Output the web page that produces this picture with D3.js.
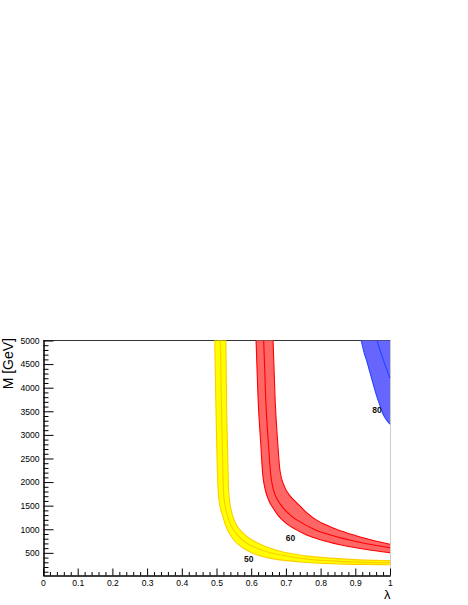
<!DOCTYPE html>
<html><head><meta charset="utf-8">
<script src="https://cdn.jsdelivr.net/npm/d3@7"></script>
<style>body{margin:0;background:#fff}svg{display:block}</style>
</head><body>
<script>
// ---- data (lambda, M [GeV]) ----
const yellowLower = [[0.495,5000],[0.498,3731],[0.501,2665],[0.505,1812],[0.510,1492],[0.518,1279],[0.527,1066],[0.539,895],[0.553,746],[0.570,640],[0.590,544],[0.614,463],[0.649,394],[0.690,345],[0.741,307],[0.798,281],[0.871,262],[0.942,254],[1.0,249]];
const yellowUpper = [[0.527,5000],[0.529,3731],[0.532,2665],[0.535,1812],[0.540,1492],[0.547,1279],[0.558,1087],[0.574,938],[0.594,810],[0.617,714],[0.643,629],[0.678,544],[0.718,480],[0.770,426],[0.827,388],[0.899,356],[0.957,341],[1.0,335]];
const yellowCenter = [[0.511,5000],[0.514,3731],[0.517,2665],[0.520,1812],[0.525,1492],[0.532,1279],[0.542,1077],[0.556,917],[0.574,778],[0.595,672],[0.620,586],[0.655,501],[0.698,437],[0.755,373],[0.827,330],[0.914,303],[1.0,292]];

const redLower = [[0.614,5000],[0.620,3731],[0.627,2878],[0.633,2175],[0.640,1855],[0.650,1620],[0.663,1450],[0.678,1290],[0.698,1141],[0.724,1013],[0.758,885],[0.799,778],[0.856,672],[0.928,576],[1.0,501]];
const redUpper = [[0.663,5000],[0.669,3731],[0.676,2878],[0.683,2239],[0.695,1919],[0.712,1706],[0.732,1556],[0.755,1386],[0.784,1215],[0.827,1055],[0.870,938],[0.928,810],[1.0,682]];
const redCenter = [[0.636,5000],[0.642,3731],[0.649,2878],[0.656,2175],[0.665,1812],[0.678,1599],[0.695,1428],[0.718,1269],[0.747,1130],[0.784,991],[0.836,863],[0.899,746],[0.957,661],[1.0,608]];

const blueLower = [[0.917,5000],[0.925,4754],[0.934,4541],[0.942,4328],[0.951,4093],[0.961,3838],[0.970,3646],[0.978,3475],[0.988,3337],[1.0,3230]];
const blueCenter = [[0.963,5000],[0.971,4797],[0.980,4605],[0.988,4435],[1.0,4206]];

const contourLabels = ["50","60","80"];
const labelLambda = [0.593, 0.713, 0.9625];
const labelMass = [360, 819, 3527];

const xTickValues = [0,0.1,0.2,0.3,0.4,0.5,0.6,0.7,0.8,0.9,1];
const xTickLabels = ["0","0.1","0.2","0.3","0.4","0.5","0.6","0.7","0.8","0.9","1"];
const yTickValues = [500,1000,1500,2000,2500,3000,3500,4000,4500,5000];
const yTickLabels = ["500","1000","1500","2000","2500","3000","3500","4000","4500","5000"];

// ---- layout ----
const W = 468, H = 605;
const X0 = 43, X1 = 390, Y0 = 575.5, Y1 = 340.5;
const x = d3.scaleLinear().domain([0,1]).range([X0, X1]);
const y = d3.scaleLinear().domain([20,5000]).range([Y0, Y1]);

const svg = d3.select("body").append("svg").attr("width", W).attr("height", H)
  .style("font-family", "'Liberation Sans', Arial, Helvetica, sans-serif");
svg.append("rect").attr("width", W).attr("height", H).attr("fill", "#fff");

svg.append("defs").append("clipPath").attr("id","plotclip")
  .append("rect").attr("x", X0).attr("y", 340).attr("width", X1 - X0 + 1).attr("height", Y0 - 340);

// frame (top + right)
svg.append("line").attr("x1", X0).attr("x2", X1 + 0.5).attr("y1", 340.5).attr("y2", 340.5)
  .attr("stroke", "#333").attr("stroke-width", 1);
svg.append("line").attr("x1", X1 + 0.5).attr("x2", X1 + 0.5).attr("y1", 340.5).attr("y2", Y0)
  .attr("stroke", "#d0ccc0").attr("stroke-width", 1);

const line = d3.line().x(d => x(d[0])).y(d => y(d[1])).curve(d3.curveMonotoneX);
function bandPath(upper, lower) {
  return line(upper) + "L" + line(lower.slice().reverse()).substring(1) + "Z";
}

const g = svg.append("g").attr("clip-path", "url(#plotclip)");

const bands = [
  {upper: yellowUpper, lower: yellowLower, center: yellowCenter, fill: "#ffff00", stroke: "#ffcc00"},
  {upper: redUpper, lower: redLower, center: redCenter, fill: "#ff6666", stroke: "#ff0000"}
];
bands.forEach(b => {
  g.append("path").attr("d", bandPath(b.upper, b.lower)).attr("fill", b.fill).attr("stroke", "none");
  [b.lower, b.upper, b.center].forEach(arr => {
    g.append("path").attr("d", line(arr)).attr("fill", "none").attr("stroke", b.stroke).attr("stroke-width", 1.1);
  });
});

// blue band: upper edge lies beyond the frame (right/top corner)
const blueD = "M" + x(1) + "," + y(5000) + "L" + line(blueLower.slice().reverse()).substring(1) + "Z";
g.append("path").attr("d", blueD).attr("fill", "#6666ff").attr("stroke", "none");
[blueLower, blueCenter].forEach(arr => {
  g.append("path").attr("d", line(arr)).attr("fill", "none").attr("stroke", "#2244ff").attr("stroke-width", 1.1);
});

// contour labels
contourLabels.forEach((t, i) => {
  svg.append("text").attr("x", x(labelLambda[i])).attr("y", y(labelMass[i]))
    .attr("dy", "0.35em").attr("text-anchor", "middle")
    .attr("font-size", "8.5px").attr("font-weight", "bold").attr("fill", "#111").text(t);
});

// axes
const xMinor = d3.range(0, 1.0001, 0.02).filter(v => Math.abs(v*10 - Math.round(v*10)) > 1e-6);
const yMinor = d3.range(100, 5000, 100).filter(v => v % 500 !== 0);

const xAxisMinor = d3.axisBottom(x).tickValues(xMinor).tickSize(-3.5).tickSizeOuter(0).tickFormat("");
const xAxis = d3.axisBottom(x).tickValues(xTickValues).tickSize(-7).tickSizeOuter(0).tickPadding(4)
  .tickFormat((d, i) => xTickLabels[i]);
const yAxisMinor = d3.axisLeft(y).tickValues(yMinor).tickSize(-5).tickSizeOuter(0).tickFormat("");
const yAxis = d3.axisLeft(y).tickValues(yTickValues).tickSize(-10).tickSizeOuter(0).tickPadding(4)
  .tickFormat((d, i) => yTickLabels[i]);

function styleAxis(sel) {
  sel.selectAll("path.domain").attr("stroke", "#000");
  sel.selectAll(".tick line").attr("stroke", "#000");
  sel.selectAll("text").attr("font-size", "8.6px").attr("fill", "#000")
    .style("font-family", "'Liberation Sans', Arial, Helvetica, sans-serif");
}
svg.append("g").attr("transform", `translate(0,${Y0})`).call(xAxisMinor).call(styleAxis);
svg.append("g").attr("transform", `translate(0,${Y0})`).call(xAxis).call(styleAxis);
svg.append("g").attr("transform", `translate(${X0 + 0.5},0)`).call(yAxisMinor).call(styleAxis);
svg.append("g").attr("transform", `translate(${X0 + 0.5},0)`).call(yAxis).call(styleAxis);

// axis titles
svg.append("text").attr("transform", "translate(13,338) rotate(-90)").attr("text-anchor", "end")
  .attr("font-size", "14px").attr("fill", "#000").text("M [GeV]");
svg.append("text").attr("x", X1 + 0.5).attr("y", 599).attr("text-anchor", "end")
  .attr("font-size", "13px").attr("fill", "#000").text("λ");
</script>
</body></html>
